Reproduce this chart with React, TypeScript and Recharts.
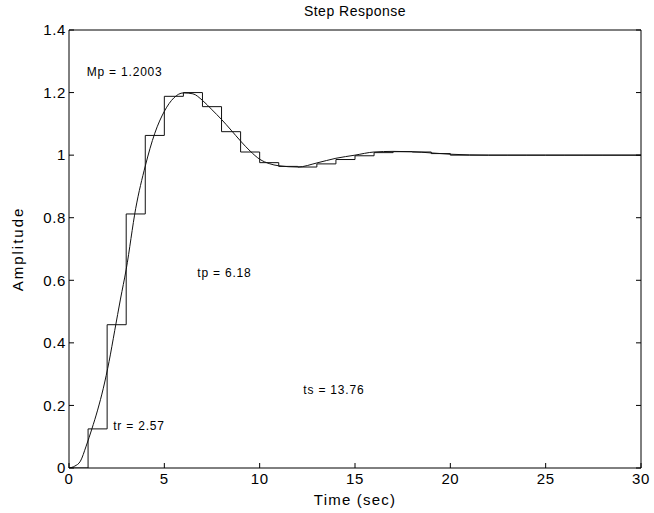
import { LineChart, Line, XAxis, YAxis, ReferenceDot } from 'recharts';

// continuous response
const curveTime = [0, 0.3, 0.6, 0.9, 1.2, 1.5, 1.8, 2.1, 2.4, 2.7, 3, 3.5, 4, 4.5, 5, 5.5, 6, 6.5, 7, 7.5, 8, 8.5, 9, 9.5, 10, 10.5, 11, 12, 13, 14, 15, 16, 17, 18, 19, 20, 22, 25, 30];
const curveAmp = [0, 0.006, 0.022, 0.07, 0.125, 0.185, 0.255, 0.34, 0.44, 0.54, 0.635, 0.83, 0.965, 1.07, 1.14, 1.183, 1.199, 1.196, 1.175, 1.145, 1.114, 1.08, 1.045, 1.013, 0.987, 0.973, 0.966, 0.962, 0.975, 0.99, 1.0, 1.01, 1.012, 1.011, 1.007, 1.003, 1.0, 1.0, 1.0];

// sampled (stairs) response, one value per second
const stairTime = [0, 1, 2, 3, 4, 5, 6, 7, 8, 9, 10, 11, 12, 13, 14, 15, 16, 17, 18, 19, 20, 21, 22, 23, 24, 25, 26, 27, 28, 29, 30];
const stairAmp = [0, 0.125, 0.458, 0.812, 1.063, 1.188, 1.2, 1.155, 1.075, 1.01, 0.976, 0.964, 0.962, 0.972, 0.986, 0.998, 1.008, 1.011, 1.01, 1.005, 1, 1, 1, 1, 1, 1, 1, 1, 1, 1, 1];

const xTicks = [0, 5, 10, 15, 20, 25, 30];
const yTicks = [0, 0.2, 0.4, 0.6, 0.8, 1, 1.2, 1.4];

const curveData = curveTime.map((t, i) => ({ t, y: curveAmp[i] }));
const stairData = stairTime.map((t, i) => ({ t, y: stairAmp[i] }));

const font = '"Liberation Sans", Arial, sans-serif';
const tickStyle = { fill: '#000', fontSize: 15, letterSpacing: 0.6 };
const noLabel = () => '';
const noteStyle = { fill: '#000', fontSize: 12, letterSpacing: 0.8 };

export default function App() {
    return (
        <div style={{ position: 'fixed', left: 0, top: 0, background: '#fff', fontFamily: font }}>
            <LineChart width={654} height={513} margin={{ top: 0, right: 0, bottom: 0, left: 0 }}>
                <XAxis
                    xAxisId="b"
                    dataKey="t"
                    type="number"
                    domain={[0, 30]}
                    ticks={xTicks}
                    allowDataOverflow
                    height={45}
                    tickSize={-5}
                    tickMargin={10}
                    axisLine={{ stroke: '#000' }}
                    tickLine={{ stroke: '#000' }}
                    tick={tickStyle}
                    label={{ value: 'Time (sec)', position: 'insideBottom', offset: 8, fill: '#000', fontSize: 15, letterSpacing: 1.2 }}
                />
                <XAxis
                    xAxisId="t"
                    orientation="top"
                    type="number"
                    domain={[0, 30]}
                    ticks={xTicks}
                    allowDataOverflow
                    height={30}
                    tickSize={-5}
                    tickFormatter={noLabel}
                    axisLine={{ stroke: '#000' }}
                    tickLine={{ stroke: '#000' }}
                    label={{ value: 'Step Response', position: 'insideTop', offset: 6, fill: '#000', fontSize: 14, letterSpacing: 0.5 }}
                />
                <YAxis
                    yAxisId="l"
                    type="number"
                    domain={[0, 1.4]}
                    ticks={yTicks}
                    allowDataOverflow
                    width={69}
                    tickSize={-5}
                    tickMargin={8}
                    axisLine={{ stroke: '#000' }}
                    tickLine={{ stroke: '#000' }}
                    tick={tickStyle}
                    label={{ value: 'Amplitude', angle: -90, position: 'insideLeft', offset: 18, fill: '#000', fontSize: 15, letterSpacing: 2, style: { textAnchor: 'middle' } }}
                />
                <YAxis
                    yAxisId="r"
                    orientation="right"
                    type="number"
                    domain={[0, 1.4]}
                    ticks={yTicks}
                    allowDataOverflow
                    width={13}
                    tickSize={-5}
                    tickFormatter={noLabel}
                    axisLine={{ stroke: '#000' }}
                    tickLine={{ stroke: '#000' }}
                />
                <Line
                    xAxisId="b"
                    yAxisId="l"
                    data={curveData}
                    dataKey="y"
                    type="monotone"
                    stroke="#111"
                    strokeWidth={1}
                    dot={false}
                    isAnimationActive={false}
                />
                <Line
                    xAxisId="b"
                    yAxisId="l"
                    data={stairData}
                    dataKey="y"
                    type="stepAfter"
                    stroke="#111"
                    strokeWidth={1}
                    dot={false}
                    isAnimationActive={false}
                />
                <ReferenceDot xAxisId="b" yAxisId="l" x={0.93} y={1.265} r={0} fill="none" stroke="none"
                    label={{ value: 'Mp = 1.2003', position: 'right', offset: 0, ...noteStyle }} />
                <ReferenceDot xAxisId="b" yAxisId="l" x={6.73} y={0.623} r={0} fill="none" stroke="none"
                    label={{ value: 'tp = 6.18', position: 'right', offset: 0, ...noteStyle }} />
                <ReferenceDot xAxisId="b" yAxisId="l" x={12.29} y={0.25} r={0} fill="none" stroke="none"
                    label={{ value: 'ts = 13.76', position: 'right', offset: 0, ...noteStyle }} />
                <ReferenceDot xAxisId="b" yAxisId="l" x={2.32} y={0.134} r={0} fill="none" stroke="none"
                    label={{ value: 'tr = 2.57', position: 'right', offset: 0, ...noteStyle }} />
            </LineChart>
        </div>
    );
}
